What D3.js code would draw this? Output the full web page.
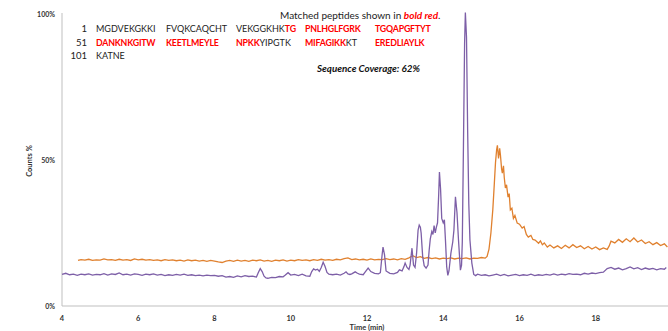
<!DOCTYPE html>
<html>
<head>
<meta charset="utf-8">
<script src="https://cdn.jsdelivr.net/npm/d3@7"></script>
<style>
  body { margin: 0; background: #fff; }
  text { font-family: Lato, "Open Sans", sans-serif; }
</style>
</head>
<body>
<div id="chart"></div>
<script>
// time (min) and counts %
const purpleTime = [4.0,4.1,4.2,4.3,4.4,4.5,4.6,4.7,4.8,4.9,5.0,5.1,5.2,5.3,5.4,5.5,5.6,5.7,5.8,5.9,6.0,6.1,6.2,6.3,6.4,6.5,6.6,6.7,6.8,6.9,7.0,7.1,7.2,7.3,7.4,7.5,7.6,7.7,7.8,7.9,8.0,8.1,8.2,8.3,8.4,8.5,8.6,8.7,8.8,8.9,9.0,9.1,
  9.15,9.2,9.25,9.3,9.35,9.4,9.5,9.6,9.7,9.8,9.85,9.93,10.0,10.1,10.2,10.3,10.4,10.5,10.55,10.6,10.65,10.7,10.75,10.8,10.85,10.9,10.95,11.0,11.1,11.2,11.3,11.4,11.45,11.5,11.55,11.6,11.69,11.75,11.8,11.9,11.95,12.03,12.1,12.2,12.3,12.35,12.4,12.42,12.46,12.5,12.6,12.7,12.8,12.85,12.92,12.97,13.0,13.05,13.1,13.13,13.18,13.22,13.26,13.3,13.34,13.37,13.4,13.42,13.46,13.5,13.55,13.6,13.63,13.66,13.7,13.73,13.76,13.79,13.82,13.85,13.88,13.9,13.93,13.96,14.0,14.03,14.06,14.09,14.12,14.15,14.2,14.25,14.28,14.32,14.36,14.4,14.45,14.48,14.5,14.53,14.56,14.58,14.61,14.64,14.67,14.7,14.75,14.8,14.85,14.9,
  15.0,15.1,15.2,15.3,15.4,15.5,15.6,15.7,15.8,15.9,16.0,16.1,16.2,16.3,16.4,16.5,16.6,16.7,16.8,16.9,17.0,17.1,17.2,17.3,17.4,17.5,17.6,17.7,17.8,17.9,18.0,18.1,18.2,18.3,18.4,18.5,18.6,18.7,18.8,18.9,19.0,19.1,19.2,19.3,19.4,19.5,19.6,19.7,19.8,19.85];
const purpleCounts = [10.8,11.2,10.7,10.9,10.5,10.9,10.7,11.0,10.6,10.8,10.7,11.1,10.6,11.0,10.8,11.3,10.7,10.9,10.6,11.0,10.8,10.5,10.9,10.7,11.0,10.6,10.8,10.4,10.7,10.5,10.8,10.6,10.9,10.5,10.7,10.4,10.6,10.3,10.6,10.4,10.5,10.2,10.4,9.9,10.1,9.8,10.3,10.0,10.4,10.1,10.2,9.9,
  11.5,12.8,11.8,10.2,9.6,9.5,9.8,9.7,10.1,10.0,10.5,11.4,10.6,10.8,10.4,10.9,10.3,10.2,11.8,12.7,12.3,12.6,11.9,13.2,15.0,13.5,11.5,10.9,10.7,10.9,10.6,11.2,11.7,11.0,10.8,11.0,11.7,11.2,10.9,10.7,11.6,13.0,11.8,11.2,11.0,11.4,18.0,20.2,17.5,12.0,11.2,11.0,11.5,12.4,12.0,13.5,14.7,13.2,12.5,14.0,19.8,14.0,13.2,18.0,26.0,27.7,27.0,25.0,17.0,13.8,13.0,14.0,19.0,23.0,25.5,24.5,27.5,25.0,27.0,28.5,38.0,45.9,40.0,30.0,28.5,29.5,22.0,13.5,10.5,12.0,18.0,22.0,26.0,37.4,32.0,22.6,12.3,14.0,22.0,55.0,90.0,100.5,92.0,60.0,35.0,22.6,14.7,10.8,10.4,10.9,
  10.5,10.7,10.3,10.6,10.9,10.4,10.8,10.3,10.6,10.8,10.4,10.7,10.5,10.9,10.4,10.7,10.5,10.8,10.6,11.0,10.6,10.9,10.7,11.1,10.8,10.9,10.7,11.2,10.9,11.3,11.1,11.4,11.6,12.8,13.2,12.6,13.0,12.4,12.8,13.4,12.7,13.1,12.5,13.0,12.6,12.9,12.4,12.8,12.6,13.2];

const orangeTime = [4.42,4.5,4.6,4.7,4.8,4.9,5.0,5.1,5.2,5.3,5.4,5.5,5.6,5.7,5.8,5.9,6.0,6.1,6.2,6.3,6.4,6.5,6.6,6.7,6.8,6.9,7.0,7.1,7.2,7.3,7.4,7.5,7.6,7.7,7.8,7.9,8.0,8.1,8.2,8.3,8.4,8.5,8.6,8.7,8.8,8.9,9.0,9.1,9.2,9.3,9.4,9.5,9.6,9.7,9.8,9.9,10.0,10.1,10.2,10.3,10.4,10.5,10.6,10.7,10.8,10.9,11.0,11.1,11.2,11.3,11.4,11.5,11.6,11.7,11.8,11.9,12.0,12.1,12.2,12.3,12.4,12.5,12.6,12.7,12.8,12.9,13.0,13.1,13.2,13.3,13.4,13.5,13.6,13.7,13.8,13.9,14.0,14.1,14.2,14.3,14.4,14.5,14.6,14.7,14.8,14.9,15.0,15.1,
  15.15,15.2,15.25,15.3,15.34,15.37,15.4,15.42,15.45,15.48,15.5,15.53,15.55,15.58,15.6,15.63,15.66,15.7,15.73,15.76,15.8,15.84,15.88,15.94,16.0,16.07,16.12,16.18,16.23,16.3,16.35,16.41,16.5,16.55,16.6,16.65,16.73,16.8,16.9,17.0,17.1,17.2,17.3,17.4,17.5,17.6,17.7,17.8,17.9,18.0,18.1,18.2,18.3,18.35,18.4,18.5,18.6,18.7,18.8,18.9,19.0,19.1,19.2,19.3,19.4,19.5,19.6,19.7,19.8,19.88];
const orangeCounts = [15.6,15.9,15.7,16.0,15.6,15.8,15.7,16.1,15.8,15.9,15.6,16.0,15.7,15.9,15.6,16.1,15.8,16.0,15.7,15.9,15.6,15.8,15.5,15.9,15.6,15.8,15.5,15.7,15.4,15.8,15.5,15.7,15.4,15.6,15.3,15.6,15.4,15.1,14.9,15.4,15.6,15.3,15.7,15.4,15.6,15.3,15.7,15.5,15.8,15.4,15.6,15.3,15.7,15.5,15.8,15.4,15.7,15.5,15.9,15.6,15.8,15.5,15.9,15.6,16.0,15.7,15.9,15.6,16.0,15.8,16.2,16.5,15.9,16.1,15.8,16.0,15.7,16.1,15.8,16.0,15.9,16.2,15.9,16.1,15.8,16.2,16.0,16.5,17.2,16.6,16.9,16.3,16.6,16.2,16.5,16.1,16.4,16.2,16.5,16.1,16.4,16.2,16.5,16.1,16.4,16.3,16.6,16.4,
  17.0,19.5,25.0,33.0,42.0,49.0,53.5,55.0,50.5,54.0,51.7,47.0,45.5,48.0,44.0,40.4,41.5,37.3,38.5,32.9,33.5,30.0,31.0,28.4,28.0,26.7,27.2,24.5,23.6,24.2,22.8,22.6,21.5,22.3,21.0,21.6,20.2,20.9,19.9,20.6,19.7,20.8,19.9,21.0,20.0,20.6,19.6,20.4,19.5,20.2,19.3,19.9,19.4,20.5,22.2,21.6,22.8,21.8,23.0,22.0,23.3,21.9,22.6,21.4,22.0,21.0,21.7,20.7,21.3,20.2];

const xTicks = [4, 6, 8, 10, 12, 14, 16, 18];
const yTicks = [0, 50, 100];

const seqRows = [
  { num: "1",   parts: [[["MGDVEKGKKI", false]], [["FVQKCAQCHT", false]], [["VEKGGKHK", false], ["TG", true]], [["PNLHGLFGRK", true]], [["TGQAPGFTYT", true]]] },
  { num: "51",  parts: [[["DANKNKGITW", true]], [["KEETLMEYLE", true]], [["NPKK", true], ["YIPGTK", false]], [["MIFAGIKK", true], ["KT", false]], [["EREDLIAYLK", true]]] },
  { num: "101", parts: [[["KATNE", false]]] }
];

const width = 668, height = 331;
const svg = d3.select("#chart").append("svg")
  .attr("width", width)
  .attr("height", height);

const x = d3.scaleLinear().domain([4, 20]).range([62, 672]);
const y = d3.scaleLinear().domain([0, 100]).range([306, 14]);

// axes lines
svg.append("line")
  .attr("x1", x(4)).attr("x2", width)
  .attr("y1", y(0)).attr("y2", y(0))
  .attr("stroke", "#bfbfbf").attr("stroke-width", 1);
svg.append("line")
  .attr("x1", x(4)).attr("x2", x(4))
  .attr("y1", y(100) - 1).attr("y2", y(0))
  .attr("stroke", "#bfbfbf").attr("stroke-width", 1);

// tick labels
svg.selectAll(".xt").data(xTicks).enter().append("text")
  .attr("x", d => x(d)).attr("y", 321)
  .attr("text-anchor", "middle")
  .attr("font-size", 7.5).attr("font-weight", "bold").attr("fill", "#333")
  .text(d => d);
svg.selectAll(".yt").data(yTicks).enter().append("text")
  .attr("x", 55).attr("y", d => y(d) + 2.5)
  .attr("text-anchor", "end")
  .attr("font-size", 7).attr("font-weight", "bold").attr("fill", "#333")
  .text(d => d + "%");

svg.append("text")
  .attr("x", 367).attr("y", 330)
  .attr("text-anchor", "middle")
  .attr("font-size", 7.5).attr("font-weight", "bold").attr("fill", "#333")
  .text("Time (min)");
svg.append("text")
  .attr("transform", "translate(32,161) rotate(-90)")
  .attr("text-anchor", "middle")
  .attr("font-size", 7.5).attr("font-weight", "bold").attr("fill", "#333")
  .text("Counts %");

// traces
const line = d3.line().x(d => x(d[0])).y(d => y(d[1]));
svg.append("path")
  .datum(orangeTime.map((t, i) => [t, orangeCounts[i]]))
  .attr("d", line)
  .attr("fill", "none").attr("stroke", "#e0812f").attr("stroke-width", 1.3);
svg.append("path")
  .datum(purpleTime.map((t, i) => [t, purpleCounts[i]]))
  .attr("d", line)
  .attr("fill", "none").attr("stroke", "#7d5fa7").attr("stroke-width", 1.3);

// sequence annotation
const head = svg.append("text")
  .attr("x", 280).attr("y", 19)
  .attr("font-size", 10).attr("fill", "#222");
head.append("tspan").text("Matched peptides shown in ");
head.append("tspan").attr("font-weight", "bold").attr("font-style", "italic").attr("fill", "#ff0000").text("bold red");
head.append("tspan").text(".");

const colX = [96, 166, 236, 305, 375];
seqRows.forEach((row, r) => {
  const yy = 32 + r * 13.5;
  svg.append("text")
    .attr("x", 87).attr("y", yy)
    .attr("text-anchor", "end")
    .attr("font-size", 9.5).attr("fill", "#222")
    .text(row.num);
  row.parts.forEach((grp, c) => {
    const t = svg.append("text")
      .attr("x", colX[c]).attr("y", yy)
      .attr("font-size", 9).attr("fill", "#222");
    grp.forEach(([s, red]) => {
      t.append("tspan")
        .attr("font-weight", red ? "bold" : "normal")
        .attr("font-size", red ? 8.8 : 9)
        .attr("letter-spacing", red ? -0.2 : 0)
        .attr("fill", red ? "#ff0000" : "#222")
        .text(s);
    });
  });
});

svg.append("text")
  .attr("x", 317).attr("y", 72)
  .attr("font-size", 9.8).attr("font-weight", "bold").attr("font-style", "italic").attr("fill", "#111")
  .text("Sequence Coverage: 62%");
</script>
</body>
</html>
